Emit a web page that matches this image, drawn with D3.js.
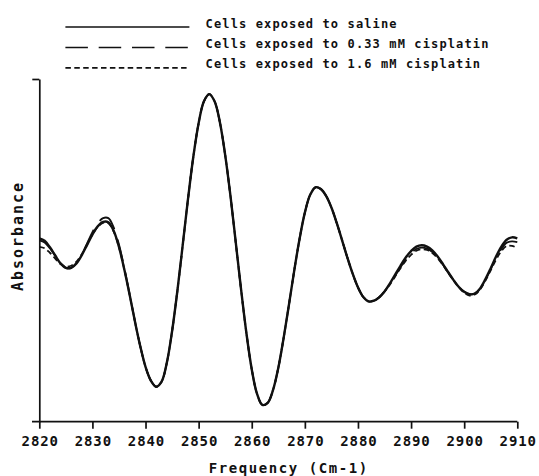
<!DOCTYPE html>
<html><head><meta charset="utf-8">
<script src="https://cdn.jsdelivr.net/npm/d3@7"></script>
<style>html,body{margin:0;padding:0;background:#fff;} svg{display:block;}</style>
</head><body><svg id="c" width="539" height="476"></svg>
<script>
// ---- data ----
const freq = d3.range(2820, 2911, 1);
const saline = [0.535,0.528,0.509,0.485,0.462,0.449,0.449,0.462,0.486,0.516,
0.546,0.570,0.583,0.582,0.557,0.510,0.445,0.371,0.293,0.221,
0.160,0.120,0.102,0.116,0.171,0.264,0.382,0.515,0.650,0.773,
0.871,0.935,0.956,0.935,0.874,0.778,0.658,0.522,0.385,0.258,
0.153,0.081,0.049,0.055,0.092,0.157,0.244,0.341,0.441,0.533,
0.610,0.662,0.684,0.679,0.659,0.625,0.580,0.530,0.479,0.432,
0.392,0.364,0.351,0.353,0.363,0.380,0.403,0.429,0.455,0.479,
0.498,0.511,0.515,0.511,0.500,0.482,0.460,0.436,0.413,0.393,
0.379,0.372,0.374,0.389,0.416,0.448,0.482,0.511,0.531,0.538,0.535];
const cis033 = [0.529,0.523,0.506,0.484,0.462,0.449,0.449,0.463,0.488,0.520,
0.553,0.579,0.594,0.594,0.567,0.517,0.449,0.373,0.294,0.221,
0.160,0.120,0.102,0.116,0.171,0.264,0.382,0.515,0.650,0.773,
0.871,0.935,0.956,0.935,0.874,0.778,0.658,0.522,0.385,0.258,
0.153,0.081,0.049,0.055,0.092,0.157,0.244,0.341,0.441,0.533,
0.610,0.662,0.684,0.679,0.659,0.625,0.580,0.530,0.479,0.432,
0.392,0.364,0.351,0.353,0.363,0.380,0.401,0.426,0.450,0.473,
0.491,0.504,0.508,0.505,0.495,0.479,0.458,0.435,0.413,0.393,
0.379,0.372,0.374,0.388,0.414,0.445,0.477,0.504,0.522,0.526,0.524];
const cis16 = [0.510,0.506,0.493,0.476,0.460,0.453,0.455,0.467,0.489,0.517,
0.546,0.568,0.580,0.579,0.555,0.509,0.445,0.371,0.293,0.221,
0.160,0.120,0.102,0.116,0.171,0.264,0.382,0.515,0.650,0.773,
0.871,0.935,0.956,0.935,0.874,0.778,0.658,0.522,0.385,0.258,
0.153,0.081,0.049,0.055,0.092,0.157,0.244,0.341,0.441,0.533,
0.610,0.662,0.684,0.679,0.659,0.625,0.580,0.530,0.479,0.432,
0.392,0.364,0.351,0.353,0.363,0.380,0.400,0.424,0.448,0.470,
0.487,0.499,0.503,0.501,0.492,0.477,0.457,0.434,0.413,0.392,
0.376,0.368,0.371,0.386,0.412,0.442,0.473,0.498,0.513,0.513,0.507];
const xTicks = [2820,2830,2840,2850,2860,2870,2880,2890,2900,2910];
const seriesNames = ["Cells exposed to saline","Cells exposed to 0.33 mM cisplatin","Cells exposed to 1.6 mM cisplatin"];
const xTitle = "Frequency (Cm-1)";
const yTitle = "Absorbance";

// ---- drawing ----
const svg = d3.select("#c");
const FONT = "'DejaVu Sans Mono', 'Liberation Mono', monospace";
const INK = "#111";
const x = d3.scaleLinear().domain([2820, 2910]).range([39.3, 517.3]);
const y = d3.scaleLinear().domain([0, 1]).range([421.7, 79]);

const dashes = [null, "22.5,10.8", "5.5,3.4"];
const seriesData = [saline, cis033, cis16];

// monospaced text with extra letter spacing to reach the reference pitch
function pitchText(parent, str, x0, yb, pitch, size, align) {
  const glyph = 0.602 * size;
  const ls = pitch - glyph;
  const n = str.length;
  const left = align === "middle" ? x0 - (n * pitch - ls) / 2 : x0;
  return parent.append("text")
    .attr("x", left).attr("y", yb).attr("font-family", FONT).attr("font-size", size)
    .attr("font-weight", "bold").attr("fill", INK).attr("letter-spacing", ls + "px")
    .attr("xml:space", "preserve").style("white-space", "pre")
    .text(str);
}

// x axis
const xAxis = d3.axisBottom(x).tickValues(xTicks).tickFormat(d3.format("d"))
  .tickSize(7).tickSizeOuter(0).tickPadding(9);
const gx = svg.append("g").attr("transform", `translate(0,${y(0)})`).call(xAxis);
gx.select(".domain").remove();
gx.append("line").attr("x1", 32).attr("x2", x(2910)).attr("y1", 0).attr("y2", 0)
  .attr("stroke", INK).attr("stroke-width", 1.7);
gx.selectAll(".tick line").attr("stroke", INK).attr("stroke-width", 1.7);
gx.selectAll(".tick text").attr("font-family", FONT).attr("font-size", 14)
  .attr("font-weight", "bold").attr("fill", INK).attr("letter-spacing", "0.9px")
  .attr("dx", "0.45px").attr("dy", "0.62em");

// y axis
const yAxis = d3.axisLeft(y).tickValues([1]).tickSize(7).tickSizeOuter(0).tickFormat("");
const gy = svg.append("g").attr("transform", `translate(${x(2820)},0)`).call(yAxis);
gy.select(".domain").attr("stroke", INK).attr("stroke-width", 1.7);
gy.selectAll(".tick line").attr("stroke", INK).attr("stroke-width", 1.7);

// curves
const line = d3.line().x((d, i) => x(freq[i])).y(d => y(d)).curve(d3.curveCatmullRom.alpha(0.5));
seriesData.forEach((s, k) => {
  svg.append("path").datum(s).attr("d", line).attr("fill", "none")
    .attr("stroke", INK).attr("stroke-width", k === 0 ? 2.4 : 1.8)
    .attr("stroke-dasharray", dashes[k]).attr("stroke-linejoin", "round");
});

// legend
const legY = [27, 47.5, 67.8];
const leg = svg.append("g");
seriesNames.forEach((name, k) => {
  leg.append("line").attr("x1", 65.4).attr("x2", 189.4).attr("y1", legY[k]).attr("y2", legY[k])
    .attr("stroke", INK).attr("stroke-width", 1.7).attr("stroke-dasharray", dashes[k]);
  pitchText(leg, name, 205.6, legY[k] + 0.5, 8.35, 12, "start");
});

// axis titles
pitchText(svg, xTitle, 288, 473, 10, 14, "middle");
const yt = svg.append("g").attr("transform", "translate(23,237) rotate(-90)");
pitchText(yt, yTitle, 0, 0, 11, 15, "middle");
</script>
</body></html>
